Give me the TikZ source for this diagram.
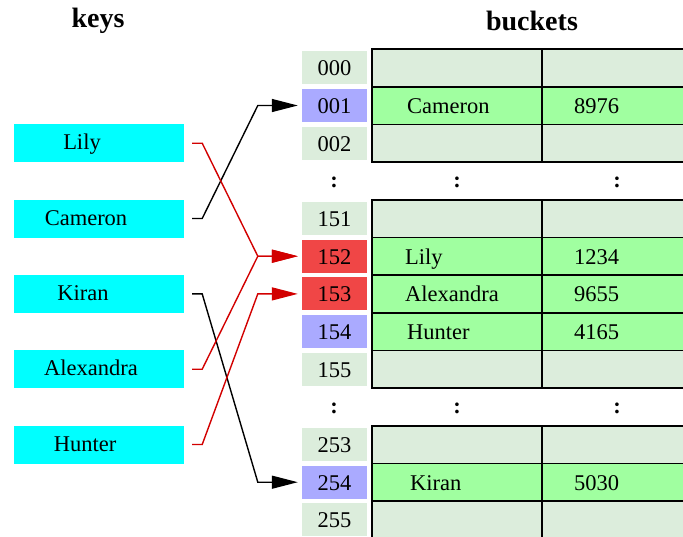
\documentclass[tikz,border=0pt]{standalone}
\usepackage{fontspec}
\setmainfont{Liberation Serif}
\usetikzlibrary{arrows.meta}
\definecolor{keycyan}{RGB}{0,255,255}
\definecolor{paleg}{RGB}{220,237,220}
\definecolor{brightg}{RGB}{160,255,160}
\definecolor{idxblue}{RGB}{170,170,255}
\definecolor{idxred}{RGB}{240,70,70}
\definecolor{linered}{RGB}{210,0,0}
\tikzset{
  keybox/.style={fill=keycyan, draw=none, minimum width=170pt, minimum height=38pt, inner sep=0pt},
  txt/.style={inner sep=0pt, font=\fontsize{22.5}{27}\selectfont},
  title/.style={inner sep=0pt, font=\fontsize{28}{32}\selectfont\bfseries},
  idx/.style={txt, minimum width=65pt, minimum height=33pt, fill=paleg, text height=16pt, text depth=0pt},
  cellpale/.style={fill=paleg, draw=black, line width=1.6pt},
  cellbright/.style={fill=brightg, draw=black, line width=1.6pt},
  conn/.style={line width=1.4pt, -{Triangle[length=26pt, width=13pt]}},
  blackconn/.style={conn, draw=black},
  redconn/.style={conn, draw=linered, -{Triangle[length=26pt, width=13pt, fill=linered]}},
  dots/.style={txt, font=\fontsize{22.5}{27}\selectfont\bfseries}
}
\begin{document}
\begin{tikzpicture}[x=1pt, y=-1pt]
\useasboundingbox (0,0) rectangle (683,536);
\clip (0,0) rectangle (683,536);
% titles
\node[title] (tkeys) at (98,21) {keys};
\node[title] (tbuckets) at (532,21) {buckets};
% key boxes
\node[keybox] (lily) at (99,143.2) {};
\node[keybox] (cameron) at (99,218.5) {};
\node[keybox] (kiran) at (99,293.9) {};
\node[keybox] (alex) at (99,369.2) {};
\node[keybox] (hunter) at (99,444.5) {};
\node[txt, anchor=base] (lilyt) at (82,149.7) {Lily};
\node[txt, anchor=base] (cameront) at (86,225) {Cameron};
\node[txt, anchor=base] (kirant) at (83,300.4) {Kiran};
\node[txt, anchor=base] (alext) at (91,375.7) {Alexandra};
\node[txt, anchor=base] (huntert) at (85,451) {Hunter};
% bucket tables
% group A rows 0-2
\draw[cellpale] (372,49) rectangle (541.7,86.7);
\draw[cellpale] (541.7,49) rectangle (700,86.7);
\draw[cellbright] (372,86.7) rectangle (541.7,124.3);
\draw[cellbright] (541.7,86.7) rectangle (700,124.3);
\draw[cellpale] (372,124.3) rectangle (541.7,162);
\draw[cellpale] (541.7,124.3) rectangle (700,162);
% group B rows 4-8
\draw[cellpale] (372,199.7) rectangle (541.7,237.3);
\draw[cellpale] (541.7,199.7) rectangle (700,237.3);
\draw[cellbright] (372,237.3) rectangle (541.7,275);
\draw[cellbright] (541.7,237.3) rectangle (700,275);
\draw[cellbright] (372,275) rectangle (541.7,312.7);
\draw[cellbright] (541.7,275) rectangle (700,312.7);
\draw[cellbright] (372,312.7) rectangle (541.7,350.3);
\draw[cellbright] (541.7,312.7) rectangle (700,350.3);
\draw[cellpale] (372,350.3) rectangle (541.7,388);
\draw[cellpale] (541.7,350.3) rectangle (700,388);
% group C rows 10-12
\draw[cellpale] (372,425.7) rectangle (541.7,463.3);
\draw[cellpale] (541.7,425.7) rectangle (700,463.3);
\draw[cellbright] (372,463.3) rectangle (541.7,501);
\draw[cellbright] (541.7,463.3) rectangle (700,501);
\draw[cellpale] (372,501) rectangle (541.7,538.7);
\draw[cellpale] (541.7,501) rectangle (700,538.7);
% bucket contents
\node[txt, anchor=base west] (bcam) at (407,113.5) {Cameron};
\node[txt, anchor=base west] (vcam) at (574,113.5) {8976};
\node[txt, anchor=base west] (blily) at (405,264.2) {Lily};
\node[txt, anchor=base west] (vlily) at (574,264.2) {1234};
\node[txt, anchor=base west] (balex) at (405,301.9) {Alexandra};
\node[txt, anchor=base west] (valex) at (574,301.9) {9655};
\node[txt, anchor=base west] (bhunter) at (407,339.5) {Hunter};
\node[txt, anchor=base west] (vhunter) at (574,339.5) {4165};
\node[txt, anchor=base west] (bkiran) at (410,490.2) {Kiran};
\node[txt, anchor=base west] (vkiran) at (574,490.2) {5030};
% index cells
\node[idx] (i000) at (334.5,67.8) {000};
\node[idx, fill=idxblue] (i001) at (334.5,105.5) {001};
\node[idx] (i002) at (334.5,143.2) {002};
\node[idx] (i151) at (334.5,218.5) {151};
\node[idx, fill=idxred] (i152) at (334.5,256.2) {152};
\node[idx, fill=idxred] (i153) at (334.5,293.9) {153};
\node[idx, fill=idxblue] (i154) at (334.5,331.5) {154};
\node[idx] (i155) at (334.5,369.2) {155};
\node[idx] (i253) at (334.5,444.5) {253};
\node[idx, fill=idxblue] (i254) at (334.5,482.2) {254};
\node[idx] (i255) at (334.5,519.9) {255};
% dots
\node[dots] (d1) at (334,182) {:};
\node[dots] (d2) at (457,182) {:};
\node[dots] (d3) at (617,182) {:};
\node[dots] (d4) at (334,408) {:};
\node[dots] (d5) at (457,408) {:};
\node[dots] (d6) at (617,408) {:};
% connectors
\draw[blackconn] ([xshift=8]cameron.east) -- ++(10,0) -- ([xshift=-44]i001.west) -- ([xshift=-4]i001.west);
\draw[blackconn] ([xshift=8]kiran.east) -- ++(10,0) -- ([xshift=-44]i254.west) -- ([xshift=-4]i254.west);
\draw[redconn] ([xshift=8]lily.east) -- ++(10,0) -- ([xshift=-44]i152.west) -- ([xshift=-4]i152.west);
\draw[redconn] ([xshift=8]alex.east) -- ++(10,0) -- ([xshift=-44]i152.west) -- ([xshift=-4]i152.west);
\draw[redconn] ([xshift=8]hunter.east) -- ++(10,0) -- ([xshift=-44]i153.west) -- ([xshift=-4]i153.west);
\end{tikzpicture}
\end{document}
